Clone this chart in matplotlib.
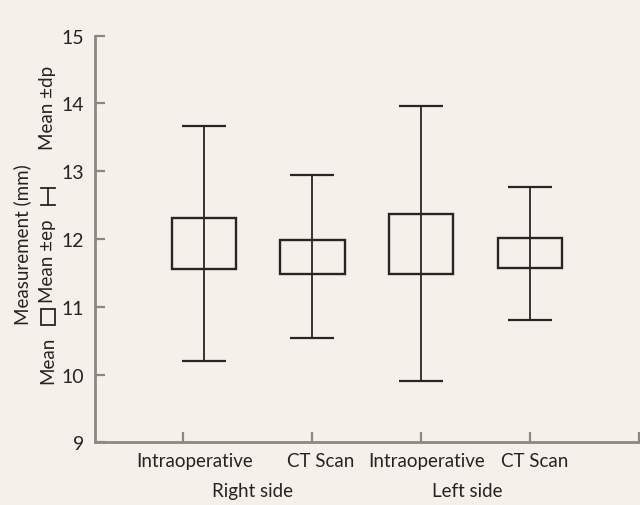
import numpy as np
import matplotlib.pyplot as plt
from matplotlib.patches import Rectangle
from matplotlib.lines import Line2D

plt.rcParams['font.family'] = ['Lato', 'DejaVu Sans']

# values
categories = ['Intraoperative', 'CT Scan', 'Intraoperative', 'CT Scan']
groups = ['Right side', 'Left side']
means = [11.93, 11.74, 11.93, 11.79]
se = [0.38, 0.25, 0.44, 0.22]
sd = [1.73, 1.20, 2.03, 0.98]
yticks = [9, 10, 11, 12, 13, 14, 15]

bg = '#f5f0ea'
dark = '#2a2525'
grey = '#8c8782'
txt = '#262323'
fs = 13.5

fig = plt.figure(figsize=(6.4, 5.06), dpi=100, facecolor=bg)
ax = fig.add_axes([0.1484, 0.1239, 0.8496, 0.8036], facecolor=bg)

pos = np.array([1.0, 2.0, 3.0, 4.0])
bw = 0.59
for x, m, e, s in zip(pos, means, se, sd):
    ax.errorbar(x, m, yerr=s, fmt='none', ecolor=dark, elinewidth=1.3,
                capsize=16, capthick=1.6, zorder=2)
    ax.add_patch(Rectangle((x - bw / 2, m - e), bw, 2 * e, fill=False,
                           edgecolor=dark, lw=1.7, zorder=3))

ax.set_xlim(0, 5)
ax.set_ylim(9, 15)
ax.set_yticks(yticks)
ax.set_yticklabels([str(t) for t in yticks])
ax.set_xticks([0.81, 2.0, 3.0, 4.0, 5.0])
ax.set_xticklabels([])
# labels sit a little right of the tick marks
ax.set_xticks([0.92, 2.08, 3.05, 4.04], minor=True)
ax.set_xticklabels(categories, minor=True)
ax.tick_params(axis='x', which='minor', length=0, pad=7, labelsize=fs, labelcolor=txt)
ax.tick_params(axis='both', which='major', direction='in', length=7, width=1.6,
               color=grey, labelsize=14, labelcolor=txt, pad=8)

for side in ['top', 'right']:
    ax.spines[side].set_visible(False)
for side in ['left', 'bottom']:
    ax.spines[side].set_color(grey)
    ax.spines[side].set_linewidth(2)

for g, gx in zip(groups, [1.45, 3.42]):
    ax.text(gx, -0.118, g, transform=ax.get_xaxis_transform(), ha='center',
            va='center', fontsize=fs, color=txt)

# y label and the legend written along the axis
fig.text(22 / 640, 1 - 245 / 506, 'Measurement (mm)', rotation=90, ha='center',
         va='center', fontsize=fs, color=txt)
cx = 48 / 640
fig.text(cx, 1 - 360 / 506, 'Mean', rotation=90, ha='center', va='center',
         fontsize=fs, color=txt)
fig.patches.append(Rectangle((cx - 7 / 640, 1 - 326 / 506), 14 / 640, 16 / 506,
                             fill=False, edgecolor=dark, lw=1.3,
                             transform=fig.transFigure))
fig.text(cx, 1 - 261 / 506, 'Mean \u00b1ep', rotation=90, ha='center', va='center',
         fontsize=fs, color=txt)
# I-beam glyph
yb, yt = 1 - 206 / 506, 1 - 189 / 506
fig.lines.append(Line2D([cx, cx], [yb, yt], color=dark, lw=1.3, transform=fig.transFigure))
fig.lines.append(Line2D([cx - 7 / 640, cx + 7 / 640], [yb, yb], color=dark, lw=1.3,
                        transform=fig.transFigure))
fig.lines.append(Line2D([cx - 7 / 640, cx + 7 / 640], [yt, yt], color=dark, lw=1.3,
                        transform=fig.transFigure))
fig.text(cx, 1 - 108 / 506, 'Mean \u00b1dp', rotation=90, ha='center', va='center',
         fontsize=fs, color=txt)

fig.savefig('out.png', dpi=100, facecolor=bg)
